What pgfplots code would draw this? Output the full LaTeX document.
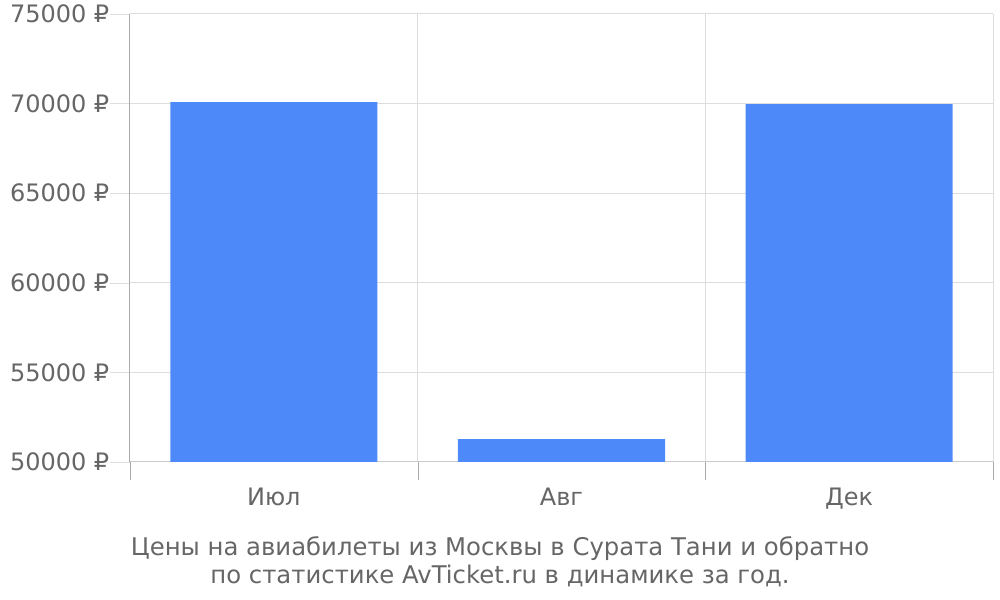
\documentclass[border=0pt]{standalone}
\usepackage{pgfplots}
\pgfplotsset{compat=1.18}
\usepackage{fontspec}
\setmainfont{DejaVu Sans}
\definecolor{barblue}{HTML}{4D89F9}
\definecolor{txtgray}{HTML}{666666}
\definecolor{gridgray}{HTML}{DDDDDD}
\definecolor{axgray}{HTML}{AAAAAA}
\begin{document}
\begin{tikzpicture}[x=0.75pt,y=0.75pt]
\path[use as bounding box] (0pt,0pt) rectangle (750pt,450pt);
\begin{axis}[
  at={(97.5pt,103.5pt)}, anchor=south west,
  scale only axis,
  width=647.25pt, height=336pt,
  xmin=-0.5, xmax=2.5,
  ymin=50000, ymax=75000,
  ytick={50000,55000,...,75000},
  xtick={0,1,2},
  xticklabels={Июл,Авг,Дек},
  minor xtick={-0.5,0.5,1.5,2.5},
  major x tick style={draw=none},
  minor x tick style={draw=axgray},
  minor tick length=13.5pt,
  y tick style={draw=gridgray},
  major tick length=15pt,
  tick align=outside,
  xmajorgrids=false, xminorgrids=true, ymajorgrids=true,
  grid style={gridgray, line width=0.75pt},
  axis x line*=bottom, axis y line*=left,
  x axis line style={draw=gridgray!80!gray, line width=0.75pt, -},
  y axis line style={draw=axgray, line width=0.75pt, -},
  scaled y ticks=false,
  /pgf/number format/.cd, 1000 sep={}, assume math mode=true, /pgfplots/.cd,
  yticklabel={\pgfmathprintnumber{\tick}~₽},
  ticklabel style={font=\fontsize{18}{20}\selectfont, text=txtgray},
  xticklabel style={yshift=-1pt},
  yticklabel style={xshift=3pt},
  ybar, bar width=155.25pt, bar shift=0pt,
]
\addplot[fill=barblue, draw=none] coordinates {(0,70080) (1,51280) (2,69970)};
\end{axis}
\node[align=center, text=txtgray, font=\fontsize{18.25}{21}\selectfont] at (375pt,29pt) {Цены на авиабилеты из Москвы в Сурата Тани и обратно\\по статистике AvTicket.ru в динамике за год.};
\end{tikzpicture}
\end{document}
